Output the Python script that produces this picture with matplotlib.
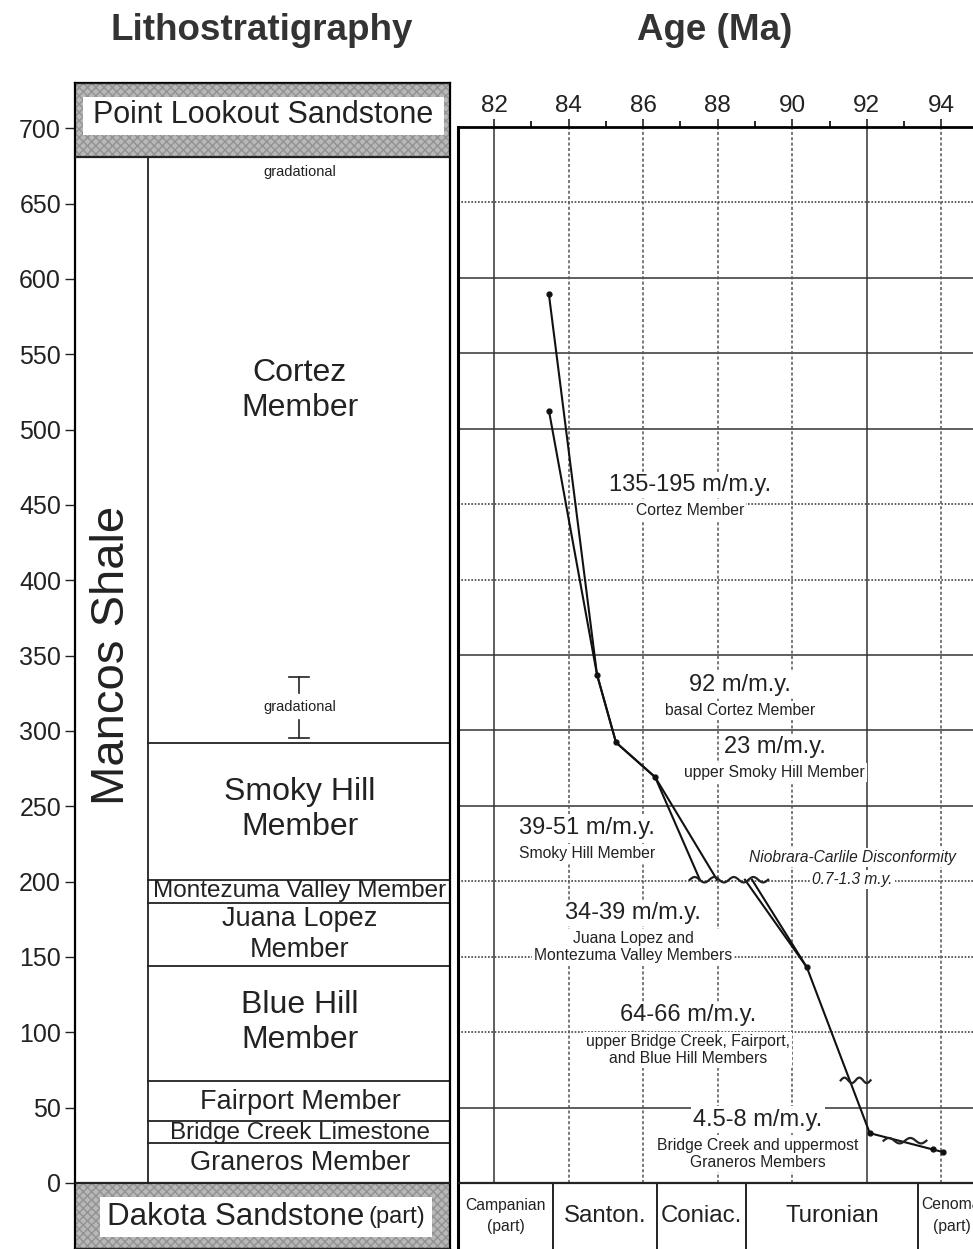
import matplotlib
matplotlib.use("Agg")
import matplotlib.pyplot as plt
import numpy as np
from matplotlib.patches import Rectangle

plt.rcParams["font.family"] = ["Liberation Sans", "DejaVu Sans"]

# ---------------------------------------------------------------------------
# Dados
# ---------------------------------------------------------------------------
DEPTH_TICKS = list(range(0, 701, 50))
AGE_TICKS = [82, 84, 86, 88, 90, 92, 94]
AGE_MINOR = [83, 85, 87, 89, 91, 93]

COLUMN_TOP = 730
POINT_LOOKOUT_BASE = 681
DAKOTA_BASE = -44

MEMBER_BOUNDS = [26.5, 41, 68, 144, 186, 201, 292]
MEMBER_NAMES = ["Graneros Member", "Bridge Creek Limestone", "Fairport Member",
                "Blue Hill\nMember", "Juana Lopez\nMember",
                "Montezuma Valley Member", "Smoky Hill\nMember", "Cortez\nMember"]
MEMBER_LABEL_DEPTH = [13, 33, 54, 106.5, 165, 193.7, 248, 526]

GRADATIONAL_DEPTH = [671, 316]
GRADATIONAL_RANGE = [295, 336]

STAGE_BOUNDS = [81.03, 83.58, 86.37, 88.76, 93.37]
STAGE_NAMES = ["Campanian\n(part)", "Santon.", "Coniac.", "Turonian"]

# curvas de idade x profundidade
UPPER_A_AGE = [83.47, 84.76, 85.27, 86.32, 87.98]
UPPER_A_DEPTH = [589, 337, 292, 269, 201]
UPPER_B_AGE = [83.47, 84.76, 85.27, 86.32, 87.52]
UPPER_B_DEPTH = [512, 337, 292, 269, 201]
LOWER_A_AGE = [88.73, 90.39, 92.08, 93.77, 94.04]
LOWER_A_DEPTH = [201, 143, 33, 22.2, 20.5]
LOWER_B_AGE = [88.92, 90.39]
LOWER_B_DEPTH = [201, 143]

# hiatos (idade inicial, idade final, profundidade)
HIATUS_START = [87.25, 91.3, 92.45]
HIATUS_END = [89.35, 92.1, 93.6]
HIATUS_DEPTH = [201, 68, 28]

RATE_TEXT = ["135-195 m/m.y.", "92 m/m.y.", "23 m/m.y.", "39-51 m/m.y.",
             "34-39 m/m.y.", "64-66 m/m.y.", "4.5-8 m/m.y."]
RATE_NOTE = ["Cortez Member", "basal Cortez Member", "upper Smoky Hill Member",
             "Smoky Hill Member", "Juana Lopez and\nMontezuma Valley Members",
             "upper Bridge Creek, Fairport,\nand Blue Hill Members",
             "Bridge Creek and uppermost\nGraneros Members"]
RATE_AGE = [87.25, 88.6, 89.53, 84.5, 85.73, 87.2, 89.08]
RATE_DEPTH = [462.5, 330, 289, 235.5, 179, 111, 42]

H_SOLID = [600, 550, 500, 350, 300, 250, 50]
V_SOLID = [82, 92]

W, H = 973, 1249
fig = plt.figure(figsize=(W / 100, H / 100), dpi=100)

# ---------------------------------------------------------------------------
# Litoestratigrafia
# ---------------------------------------------------------------------------
axl = fig.add_axes([75 / W, 0, 375 / W, (H - 83) / H])
axl.set_xlim(0, 1)
axl.set_ylim(-43.8, COLUMN_TOP)
axl.set_xticks([])
axl.set_yticks(DEPTH_TICKS)
axl.tick_params(axis="y", length=7, width=1, labelsize=18, pad=3, colors="#222")
for s in axl.spines.values():
    s.set_linewidth(1.6)

for y0, y1 in [(POINT_LOOKOUT_BASE, COLUMN_TOP), (DAKOTA_BASE, 0)]:
    axl.add_patch(Rectangle((0, y0), 1, y1 - y0, facecolor="#b8b8b8",
                            edgecolor="#929292", hatch="xxxx", lw=0, zorder=1))
    axl.plot([0, 1], [y0, y0], color="#222", lw=1.6, zorder=3)
    axl.plot([0, 1], [y1, y1], color="#222", lw=1.6, zorder=3)

axl.add_patch(Rectangle((0.021, 695.4), 0.963, 25.2, facecolor="white", lw=0, zorder=2))
axl.text(0.501, 708.6, "Point Lookout Sandstone", ha="center", va="center",
         fontsize=22, color="#222", zorder=4)
axl.add_patch(Rectangle((0.067, -35.8), 0.885, 26.5, facecolor="white", lw=0, zorder=2))
axl.text(0.772, -22.5, "Dakota Sandstone", ha="right", va="center",
         fontsize=22.5, color="#222", zorder=4)
axl.text(0.784, -22.5, "(part)", ha="left", va="center",
         fontsize=17, color="#222", zorder=4)

col_x = 0.195
axl.plot([col_x, col_x], [0, POINT_LOOKOUT_BASE], color="#222", lw=1.3)
for b in MEMBER_BOUNDS:
    axl.plot([col_x, 1], [b, b], color="#222", lw=1.3)

member_sizes = [19.5, 17.5, 19.5, 23, 19.5, 17.5, 23, 23]
for name, d, fs in zip(MEMBER_NAMES, MEMBER_LABEL_DEPTH, member_sizes):
    axl.text(0.6, d, name, ha="center", va="center", fontsize=fs,
             linespacing=1.22, color="#222")

axl.text(0.098, 350, "Mancos Shale", rotation=90, ha="center", va="center",
         fontsize=34, color="#222")

for d in GRADATIONAL_DEPTH:
    axl.text(0.6, d, "gradational", ha="center", va="center", fontsize=10.5,
             color="#222", bbox=dict(facecolor="white", edgecolor="none", pad=1))
gx = 0.597
axl.plot([gx, gx], [GRADATIONAL_RANGE[1], 325], color="#222", lw=1.2)
axl.plot([gx, gx], [GRADATIONAL_RANGE[0], 307], color="#222", lw=1.2)
for d in GRADATIONAL_RANGE:
    axl.plot([gx - 0.027, gx + 0.027], [d, d], color="#222", lw=1.2)

# ---------------------------------------------------------------------------
# Idade
# ---------------------------------------------------------------------------
axr = fig.add_axes([458 / W, 0, (W - 458) / W, (H - 127) / H])
axr.set_xlim(81.03, 94.85)
axr.set_ylim(-43.8, 700)
axr.set_yticks([])
axr.xaxis.tick_top()
axr.set_xticks(AGE_TICKS)
axr.set_xticks(AGE_MINOR, minor=True)
axr.tick_params(axis="x", which="major", direction="out", length=6, width=1.2,
                labelsize=17.5, pad=1.5, colors="#222")
axr.tick_params(axis="x", which="minor", direction="out", length=4, width=1.2)
axr.spines["right"].set_visible(False)
axr.spines["bottom"].set_visible(False)
axr.spines["top"].set_linewidth(2)
axr.spines["left"].set_linewidth(2.2)

for d in DEPTH_TICKS[1:-1]:
    if d in H_SOLID:
        axr.axhline(d, color="#333", lw=1.1, zorder=1)
    else:
        axr.axhline(d, color="#444", lw=1.2, ls=(0, (1, 1)), zorder=1)
for a in AGE_TICKS:
    if a in V_SOLID:
        axr.plot([a, a], [0, 700], color="#333", lw=1.1, zorder=1)
    else:
        axr.plot([a, a], [0, 700], color="#555", lw=1.1, ls=(0, (2, 1.5)), zorder=1)

# estágios
axr.axhline(0, color="#222", lw=1.6, zorder=3)
for b in STAGE_BOUNDS[1:]:
    axr.plot([b, b], [DAKOTA_BASE, 0], color="#222", lw=1.4)
for i, name in enumerate(STAGE_NAMES):
    xc = (STAGE_BOUNDS[i] + STAGE_BOUNDS[i + 1]) / 2
    fs = 11.3 if "(part)" in name else 17.3
    axr.text(xc, -22, name, ha="center", va="center", fontsize=fs,
             linespacing=1.5, color="#222")
axr.text(93.47, -14.6, "Cenomanian", ha="left", va="center", fontsize=11.3, color="#222")
axr.text(94.28, -29, "(part)", ha="center", va="center", fontsize=11.3, color="#222")

# curvas
line_kw = dict(color="#111", lw=1.5, zorder=5)
axr.plot(UPPER_A_AGE, UPPER_A_DEPTH, **line_kw)
axr.plot(UPPER_B_AGE, UPPER_B_DEPTH, **line_kw)
axr.plot(LOWER_A_AGE, LOWER_A_DEPTH, **line_kw)
axr.plot(LOWER_B_AGE, LOWER_B_DEPTH, **line_kw)
mk = dict(ls="none", marker="o", ms=3.5, color="#111", zorder=6)
axr.plot(UPPER_A_AGE[:4], UPPER_A_DEPTH[:4], **mk)
axr.plot(UPPER_B_AGE[:1], UPPER_B_DEPTH[:1], **mk)
axr.plot(LOWER_A_AGE[1:], LOWER_A_DEPTH[1:], **mk)

# símbolo de discordância (linha ondulada)
for a0, a1, d in zip(HIATUS_START, HIATUS_END, HIATUS_DEPTH):
    xs = np.linspace(a0, a1, 80)
    n_waves = max(1, round((a1 - a0) / 0.5))
    axr.plot(xs, d + 1.8 * np.sin(np.linspace(0, 2 * np.pi * n_waves, 80)),
             color="#222", lw=1.6, zorder=6)

bg = dict(facecolor="white", edgecolor="none", pad=1.5)
for txt, note, a, d in zip(RATE_TEXT, RATE_NOTE, RATE_AGE, RATE_DEPTH):
    axr.text(a, d, txt, ha="center", va="center", fontsize=17, color="#222",
             bbox=bg, zorder=4)
    axr.text(a, d - 12, note, ha="center", va="top", fontsize=11.3,
             linespacing=1.2, color="#222", bbox=bg, zorder=4)

axr.text(91.62, 216, "Niobrara-Carlile Disconformity", ha="center", va="center",
         fontsize=11.2, style="italic", color="#222", bbox=bg, zorder=4)
axr.text(91.62, 201, "0.7-1.3 m.y.", ha="center", va="center",
         fontsize=11.2, style="italic", color="#222", bbox=bg, zorder=4)

fig.text(262 / W, 1 - 30 / H, "Lithostratigraphy", ha="center", va="center",
         fontsize=26.5, fontweight="bold", color="#333")
fig.text(715 / W, 1 - 30 / H, "Age (Ma)", ha="center", va="center",
         fontsize=26.5, fontweight="bold", color="#333")

fig.savefig("out.png", dpi=100)
